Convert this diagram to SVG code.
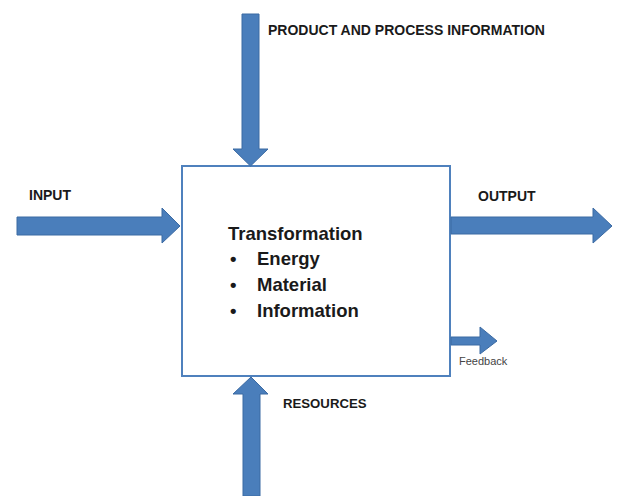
<svg xmlns="http://www.w3.org/2000/svg" width="617" height="496" viewBox="0 0 617 496">
<style>
.arrow{fill:#4a7ebb;stroke:#3b6aa3;stroke-width:1}
.lbl{font-family:"Liberation Sans",Arial,sans-serif;font-weight:bold;font-size:14px;fill:#1a1a1a}
.body{font-family:"Liberation Sans",Arial,sans-serif;font-weight:bold;font-size:18.5px;fill:#1a1a1a}
.small{font-family:"Liberation Sans",Arial,sans-serif;font-size:11px;fill:#444}
</style>
<rect width="617" height="496" fill="#fff"/>
<g id="process">
<rect x="182" y="166" width="268" height="210" fill="#fff" stroke="#4f81bd" stroke-width="2"/>
<text class="body" x="228" y="240">Transformation</text>
<text class="body" x="230" y="265">•</text><text class="body" x="257" y="265">Energy</text>
<text class="body" x="230" y="291">•</text><text class="body" x="257" y="291">Material</text>
<text class="body" x="230" y="317">•</text><text class="body" x="257" y="317">Information</text>
</g>
<g id="connectors">
<polygon class="arrow" points="242,14 259,14 259,149 268,149 250.5,166 233,149 242,149"/>
<polygon class="arrow" points="17,217 162,217 162,208 180,226 162,243 162,235 17,235"/>
<polygon class="arrow" points="451,217 593,217 593,208 612,226 593,243 593,234 451,234"/>
<polygon class="arrow" points="451,337 480,337 480,327 497,341 480,354 480,345 451,345"/>
<polygon class="arrow" points="243,496 243,394 233,394 251,377 268,394 260,394 260,496"/>
</g>
<g id="labels">
<text class="lbl" x="268" y="35">PRODUCT AND PROCESS INFORMATION</text>
<text class="lbl" x="29" y="200">INPUT</text>
<text class="lbl" x="478" y="201">OUTPUT</text>
<text class="lbl" x="283" y="408" style="font-size:13.2px">RESOURCES</text>
<text class="small" x="459" y="365">Feedback</text>
</g>
</svg>
